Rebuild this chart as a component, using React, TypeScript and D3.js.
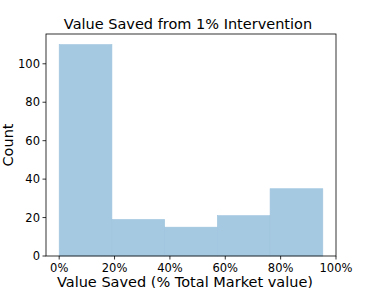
import * as d3 from 'd3';
import React from 'react';

// histogram bins (% of total market value) and counts
const binEdges = [0, 19.05, 38.1, 57.14, 76.19, 95.24];
const counts = [110, 19, 15, 21, 35];
const xTicks = [0, 20, 40, 60, 80, 100];
const yTicks = [0, 20, 40, 60, 80, 100];

const W = 374;
const H = 288;
const margin = { left: 46, right: 38, top: 34, bottom: 32 };

export default function App() {
  const innerW = W - margin.left - margin.right;
  const innerH = H - margin.top - margin.bottom;

  // matplotlib style 5% margins
  const xMax = binEdges[binEdges.length - 1];
  const x = d3.scaleLinear().domain([-0.05 * xMax, 1.05 * xMax]).range([0, innerW]);
  const yMax = d3.max(counts) as number;
  const y = d3.scaleLinear().domain([0, yMax * 1.05]).range([innerH, 0]);

  const font = 'DejaVu Sans, sans-serif';

  return (
    <div style={{ position: 'absolute', left: 0, top: 0 }}>
      <svg width={W} height={H} style={{ display: 'block', background: '#fff' }}>
        <g transform={`translate(${margin.left},${margin.top})`}>
          {counts.map((c, i) => (
            <rect
              key={i}
              x={x(binEdges[i])}
              y={y(c)}
              width={x(binEdges[i + 1]) - x(binEdges[i])}
              height={innerH - y(c)}
              fill="rgb(165,201,225)"
              stroke="rgb(158,196,222)"
              strokeWidth={0.6}
            />
          ))}
          <rect x={0} y={0} width={innerW} height={innerH} fill="none" stroke="#000" strokeWidth={0.8} />
          {xTicks.map(t => (
            <g key={t} transform={`translate(${x(t)},${innerH})`}>
              <line y2={3.5} stroke="#000" strokeWidth={0.8} />
              <text y={15.5} textAnchor="middle" fontSize={11.5} fontFamily={font} fill="#000">{t}%</text>
            </g>
          ))}
          {yTicks.map(t => (
            <g key={t} transform={`translate(0,${y(t)})`}>
              <line x2={-3.5} stroke="#000" strokeWidth={0.8} />
              <text x={-6} dy="0.35em" textAnchor="end" fontSize={11.5} fontFamily={font} fill="#000">{t}</text>
            </g>
          ))}
          <text x={innerW / 2 - 3} y={-5} textAnchor="middle" fontSize={14.5} fontFamily={font} fill="#000">
            Value Saved from 1% Intervention
          </text>
          <text x={innerW / 2 - 6} y={innerH + 30.5} textAnchor="middle" fontSize={14.5} fontFamily={font} fill="#000">
            Value Saved (% Total Market value)
          </text>
          <text transform={`translate(${-33},${innerH / 2}) rotate(-90)`} textAnchor="middle" fontSize={14.5} fontFamily={font} fill="#000">
            Count
          </text>
        </g>
      </svg>
    </div>
  );
}
